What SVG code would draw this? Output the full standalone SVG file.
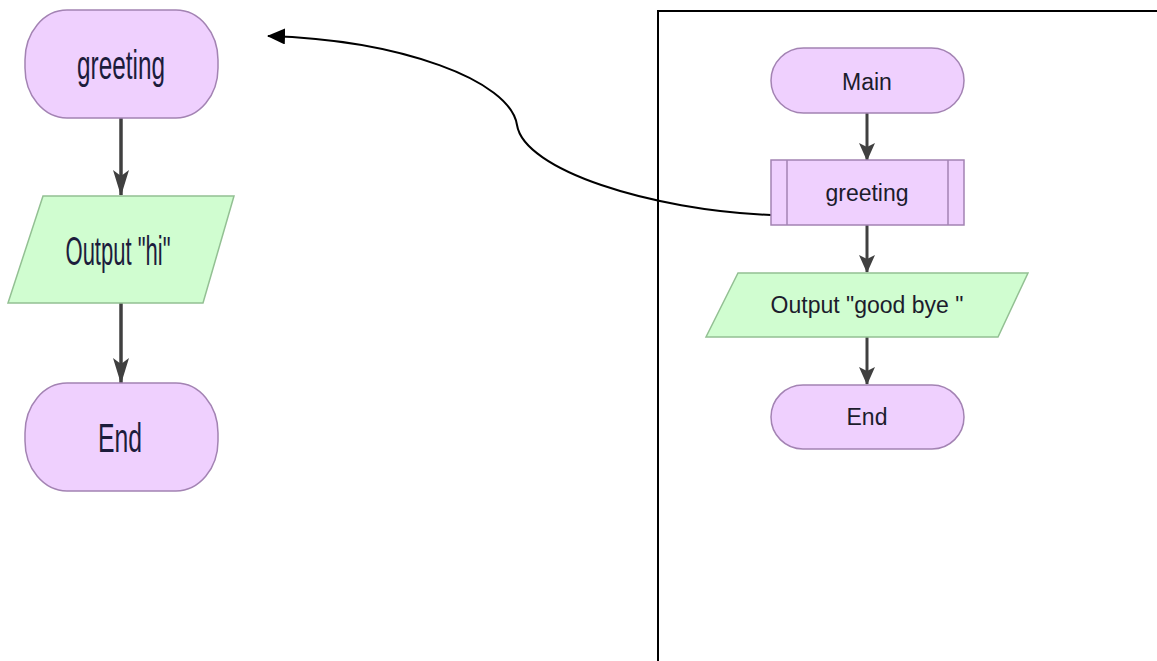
<svg xmlns="http://www.w3.org/2000/svg" width="1157" height="661" viewBox="0 0 1157 661">
<style>
.term{fill:#efd0fe;stroke:#a383b3;stroke-width:1.5}
.io{fill:#d0fdd0;stroke:#93c093;stroke-width:1.5}
.flow{fill:none;stroke:#404040;stroke-width:3.5}
.flowS{fill:none;stroke:#404040;stroke-width:3}
.big{font-family:"Liberation Sans",Arial,sans-serif;font-size:40px;fill:#1c1c3c;text-anchor:middle}
.small{font-family:"Liberation Sans",Arial,sans-serif;font-size:23px;fill:#1c1c2c;text-anchor:middle}
.call{fill:none;stroke:#000;stroke-width:2}
</style>
<defs>
<marker id="ahBig" markerUnits="userSpaceOnUse" markerWidth="26" markerHeight="16" refX="25" refY="8" orient="auto" viewBox="0 0 26 16">
<path d="M0,0 L6,8 L0,16 L26,8 Z" fill="#404040"/>
</marker>
<marker id="ahSmall" markerUnits="userSpaceOnUse" markerWidth="18" markerHeight="16" refX="17" refY="8" orient="auto" viewBox="0 0 18 16">
<path d="M0,0 L4,8 L0,16 L18,8 Z" fill="#404040"/>
</marker>
<marker id="ahCall" markerUnits="userSpaceOnUse" markerWidth="18" markerHeight="16" refX="17" refY="8" orient="auto" viewBox="0 0 18 16">
<path d="M0,0 L18,8 L0,16 Z" fill="#000"/>
</marker>
</defs>
<rect width="1157" height="661" fill="#fff"/>

<g id="frame">
<rect x="658" y="11" width="520" height="700" fill="none" stroke="#000" stroke-width="2"/>
</g>

<g id="connectors">
<line class="flow" x1="121" y1="118" x2="121" y2="195" marker-end="url(#ahBig)"/>
<line class="flow" x1="121" y1="303" x2="121" y2="383" marker-end="url(#ahBig)"/>
<line class="flowS" x1="867" y1="113" x2="867" y2="160" marker-end="url(#ahSmall)"/>
<line class="flowS" x1="867" y1="225" x2="867" y2="272" marker-end="url(#ahSmall)"/>
<line class="flowS" x1="867" y1="337" x2="867" y2="384" marker-end="url(#ahSmall)"/>
<path class="call" d="M771,215 C650,210 524,170 517,125 C510,80 400,40 268,36" marker-end="url(#ahCall)"/>
</g>

<g id="sub-greeting">
<rect class="term" x="25" y="10" width="193" height="108" rx="42" ry="50"/>
<text class="big" x="121" y="79" textLength="88" lengthAdjust="spacingAndGlyphs">greeting</text>
</g>
<g id="sub-output-hi">
<polygon class="io" points="43,196 234,196 203,303 8,303"/>
<text class="big" x="118" y="265" textLength="105" lengthAdjust="spacingAndGlyphs">Output "hi"</text>
</g>
<g id="sub-end">
<rect class="term" x="25" y="383" width="193" height="108" rx="42" ry="50"/>
<text class="big" x="120" y="452" textLength="44" lengthAdjust="spacingAndGlyphs">End</text>
</g>

<g id="main-start">
<rect class="term" x="771" y="48" width="193" height="65" rx="32.5" ry="32.5"/>
<text class="small" x="867" y="90">Main</text>
</g>
<g id="main-call-greeting">
<rect class="term" x="771" y="160" width="193" height="65"/>
<line x1="787" y1="160" x2="787" y2="225" stroke="#a383b3" stroke-width="1.5"/>
<line x1="948" y1="160" x2="948" y2="225" stroke="#a383b3" stroke-width="1.5"/>
<text class="small" x="867" y="201">greeting</text>
</g>
<g id="main-output">
<polygon class="io" points="738,273 1028,273 998,337 706,337"/>
<text class="small" x="867" y="313">Output "good bye "</text>
</g>
<g id="main-end">
<rect class="term" x="771" y="385" width="193" height="64" rx="32" ry="32"/>
<text class="small" x="867" y="425">End</text>
</g>
</svg>
